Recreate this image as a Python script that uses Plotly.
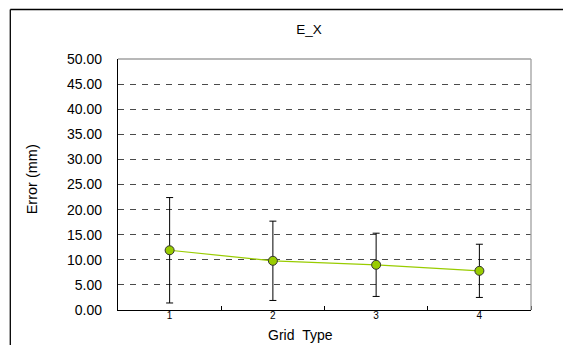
import plotly.graph_objects as go

grid_types = [1, 2, 3, 4]
tick_labels = ["1", "2", "3", "4"]
mean_error = [11.9, 9.8, 9.0, 7.8]
err_sd = [10.5, 7.9, 6.3, 5.3]
y_ticks = [0, 5, 10, 15, 20, 25, 30, 35, 40, 45, 50]

OFF = 8  # default page body margin
W, H = 571 - OFF, 345 - OFF
L, T = 117.7 - OFF, 59 - OFF
R, B = 40.3, 43 - OFF
pw, ph = W - L - R, H - T - B


def px_x(x):
    return (x - OFF - L) / pw


def px_y(y):
    return (H - B - (y - OFF)) / ph


fig = go.Figure()
fig.add_trace(go.Scatter(
    x=grid_types, y=mean_error,
    mode="lines+markers",
    line=dict(color="#99CC00", width=1.2),
    marker=dict(size=9, color="#99CC00", line=dict(color="#333333", width=1)),
    error_y=dict(type="data", array=err_sd, visible=True, color="#000000",
                 thickness=1, width=3.5),
    showlegend=False,
))

font_family = "Liberation Sans, Arial, sans-serif"

fig.update_layout(
    width=W, height=H,
    margin=dict(l=L, r=R, t=T, b=B, pad=0),
    paper_bgcolor="white", plot_bgcolor="white",
    font=dict(family=font_family, color="#000000"),
    title=dict(text="E_X", x=(309 - OFF) / W, xref="container", xanchor="center",
               y=1 - (29 - OFF) / H, yref="container", yanchor="middle",
               font=dict(size=13.5, family=font_family, color="#000")),
    xaxis=dict(
        range=[0.5, 4.5], tickvals=grid_types, ticktext=tick_labels,
        ticks="", showgrid=False, zeroline=False,
        showline=True, linecolor="#000000", linewidth=1.3,
        tickfont=dict(size=10, family=font_family, color="#000"),
        ticklabelstandoff=-4,
        minor=dict(tickvals=[1.5, 2.5, 3.5, 4.5], ticks="inside", ticklen=4,
                   tickcolor="#000000", tickwidth=1, showgrid=False),
        fixedrange=True,
    ),
    yaxis=dict(
        range=[0, 50], tickvals=y_ticks,
        ticktext=[f"{v:.2f}" for v in y_ticks],
        ticks="", showgrid=True, gridcolor="#4A4A4A", gridwidth=1.3,
        griddash="6px,6px", zeroline=False,
        showline=True, linecolor="#000000", linewidth=1.3,
        tickfont=dict(size=14, family=font_family, color="#000"),
        ticklabelstandoff=12,
        fixedrange=True,
    ),
    shapes=[
        dict(type="line", xref="paper", yref="paper", x0=0, x1=1, y0=1, y1=1,
             line=dict(color="#A0A0A0", width=1.3), layer="above"),
        dict(type="line", xref="paper", yref="paper", x0=1, x1=1, y0=0, y1=1,
             line=dict(color="#A0A0A0", width=1.3), layer="above"),
        dict(type="line", xref="paper", yref="paper",
             x0=px_x(10), x1=px_x(10), y0=-1, y1=px_y(9.5),
             line=dict(color="#000000", width=1.3)),
        dict(type="line", xref="paper", yref="paper",
             x0=px_x(10), x1=2, y0=px_y(9.5), y1=px_y(9.5),
             line=dict(color="#000000", width=1.3)),
    ],
    annotations=[
        dict(text="Error (mm)", xref="paper", yref="paper", x=px_x(32), y=px_y(179),
             xanchor="center", yanchor="middle", textangle=-90,
             showarrow=False, font=dict(size=14.5, family=font_family, color="#000")),
        dict(text="Grid&nbsp;&nbsp;Type", xref="paper", yref="paper",
             x=px_x(300), y=px_y(335),
             xanchor="center", yanchor="middle", showarrow=False,
             font=dict(size=14, family=font_family, color="#000")),
    ],
)

fig.write_html("out.html")
